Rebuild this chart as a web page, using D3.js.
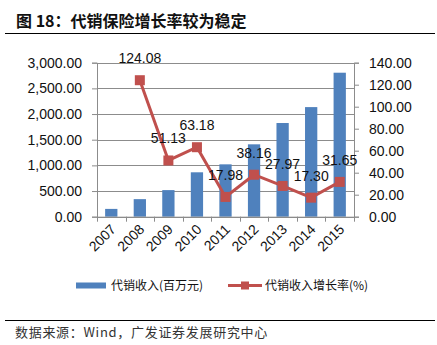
<!DOCTYPE html>
<html>
<head>
<meta charset="utf-8">
<script src="https://cdn.jsdelivr.net/npm/d3@7"></script>
<style>
  html, body { margin: 0; padding: 0; background: #fff; }
  svg { display: block; }
</style>
</head>
<body>
<svg id="chart" width="437" height="345"></svg>
<script>
// Insurance agency income (million yuan) and its year-on-year growth (%)
const years = ["2007", "2008", "2009", "2010", "2011", "2012", "2013", "2014", "2015"];
const income = [152, 342, 518, 865, 1020, 1410, 1825, 2135, 2805];
const growth = [null, 124.08, 51.13, 63.18, 17.98, 38.16, 27.97, 17.30, 31.65];
const leftTicks = [0, 500, 1000, 1500, 2000, 2500, 3000];
const rightTicks = [0, 20, 40, 60, 80, 100, 120, 140];

const titleText = "图 18：代销保险增长率较为稳定";
const sourceText = "数据来源：Wind，广发证券发展研究中心";
const legendBar = "代销收入(百万元)";
const legendLine = "代销收入增长率(%)";

const BLUE = "#4F81BD", RED = "#C0504D", GRID = "#8c8c8c";
const latin = "'Liberation Sans', Arial, sans-serif";
const cjk = "'Noto Sans CJK SC', sans-serif";

const svg = d3.select("#chart");
const plot = { left: 97, right: 354, top: 62.7, bottom: 216.7 };

const x = d3.scaleBand().domain(years).range([plot.left, plot.right]).padding(0);
const yL = d3.scaleLinear().domain([0, 3000]).range([plot.bottom, plot.top]);
const yR = d3.scaleLinear().domain([0, 140]).range([plot.bottom, plot.top]);

// Title and rule
svg.append("text")
  .attr("x", 16).attr("y", 27)
  .attr("font-family", cjk).attr("font-weight", "bold").attr("font-size", 16)
  .attr("fill", "#111")
  .text(titleText);
svg.append("line")
  .attr("x1", 5).attr("x2", 435).attr("y1", 33.5).attr("y2", 33.5)
  .attr("stroke", "#000").attr("stroke-width", 1);

// Horizontal gridlines
svg.append("g").selectAll("line").data(leftTicks).join("line")
  .attr("x1", plot.left).attr("x2", plot.right)
  .attr("y1", d => Math.round(yL(d)) + 0.5).attr("y2", d => Math.round(yL(d)) + 0.5)
  .attr("stroke", GRID).attr("stroke-width", 1);

// Bars
const bw = x.bandwidth() * 0.43;
svg.append("g").selectAll("rect").data(years).join("rect")
  .attr("x", (d) => x(d) + (x.bandwidth() - bw) / 2)
  .attr("width", bw)
  .attr("y", (d, i) => yL(income[i]))
  .attr("height", (d, i) => plot.bottom - yL(income[i]))
  .attr("fill", BLUE);

// Axes
function styleAxis(g) {
  g.selectAll("path.domain").attr("stroke", GRID);
  g.selectAll(".tick line").attr("stroke", GRID);
  g.selectAll("text").attr("font-family", latin).attr("font-size", 14).attr("fill", "#111");
}
svg.append("g")
  .attr("transform", `translate(${plot.left},0)`)
  .call(d3.axisLeft(yL).tickValues(leftTicks).tickFormat(d3.format(",.2f")).tickSizeOuter(0).tickSize(5).tickPadding(10))
  .call(styleAxis);
svg.append("g")
  .attr("transform", `translate(${plot.right},0)`)
  .call(d3.axisRight(yR).tickValues(rightTicks).tickFormat(d3.format(".2f")).tickSizeOuter(0).tickSize(5).tickPadding(10))
  .call(styleAxis);

// Category axis: ticks on band boundaries, rotated labels at centres
const xg = svg.append("g").attr("transform", `translate(0,${plot.bottom})`);
xg.append("line").attr("x1", plot.left).attr("x2", plot.right).attr("y1", 0.5).attr("y2", 0.5)
  .attr("stroke", GRID);
const bounds = years.map(d => x(d)).concat([plot.right]);
xg.selectAll("line.b").data(bounds).join("line").attr("class", "b")
  .attr("x1", d => Math.round(d) + 0.5).attr("x2", d => Math.round(d) + 0.5)
  .attr("y1", 0).attr("y2", 5).attr("stroke", GRID);
xg.selectAll("text").data(years).join("text")
  .attr("transform", d => `translate(${x(d) + x.bandwidth() / 2 + 2},${10}) rotate(-45)`)
  .attr("text-anchor", "end")
  .attr("dy", "0.35em")
  .attr("font-family", latin).attr("font-size", 14).attr("fill", "#111")
  .text(d => d);

// Growth line with square markers
const pts = years.map((d, i) => ({ year: d, v: growth[i] })).filter(p => p.v != null);
const cx = d => x(d.year) + x.bandwidth() / 2;
svg.append("path").datum(pts)
  .attr("d", d3.line().x(cx).y(d => yR(d.v)))
  .attr("fill", "none").attr("stroke", RED).attr("stroke-width", 3);
const ms = 10;
svg.append("g").selectAll("rect").data(pts).join("rect")
  .attr("x", d => cx(d) - ms / 2).attr("y", d => yR(d.v) - ms / 2)
  .attr("width", ms).attr("height", ms).attr("fill", RED);
svg.append("g").selectAll("text").data(pts).join("text")
  .attr("x", d => cx(d)).attr("y", d => yR(d.v) - 17)
  .attr("text-anchor", "middle")
  .attr("font-family", latin).attr("font-size", 14).attr("fill", "#111")
  .text(d => d.v.toFixed(2));

// Legend
const ly = 285.5;
svg.append("rect").attr("x", 76).attr("y", ly - 3).attr("width", 30).attr("height", 6).attr("fill", BLUE);
svg.append("text").attr("x", 111).attr("y", ly).attr("dy", "0.35em")
  .attr("font-family", cjk).attr("font-size", 12).attr("fill", "#111").text(legendBar);
svg.append("line").attr("x1", 228).attr("x2", 262).attr("y1", ly).attr("y2", ly)
  .attr("stroke", RED).attr("stroke-width", 3);
svg.append("rect").attr("x", 241).attr("y", ly - 4).attr("width", 8).attr("height", 8).attr("fill", RED);
svg.append("text").attr("x", 265).attr("y", ly).attr("dy", "0.35em")
  .attr("font-family", cjk).attr("font-size", 12).attr("fill", "#111").text(legendLine);

// Source rule and note
svg.append("line")
  .attr("x1", 5).attr("x2", 435).attr("y1", 320.5).attr("y2", 320.5)
  .attr("stroke", "#000").attr("stroke-width", 1);
svg.append("text")
  .attr("x", 15).attr("y", 332).attr("dy", "0.35em")
  .attr("font-family", cjk).attr("font-size", 13).attr("letter-spacing", 0.7)
  .attr("fill", "#333")
  .text(sourceText);
</script>
</body>
</html>
